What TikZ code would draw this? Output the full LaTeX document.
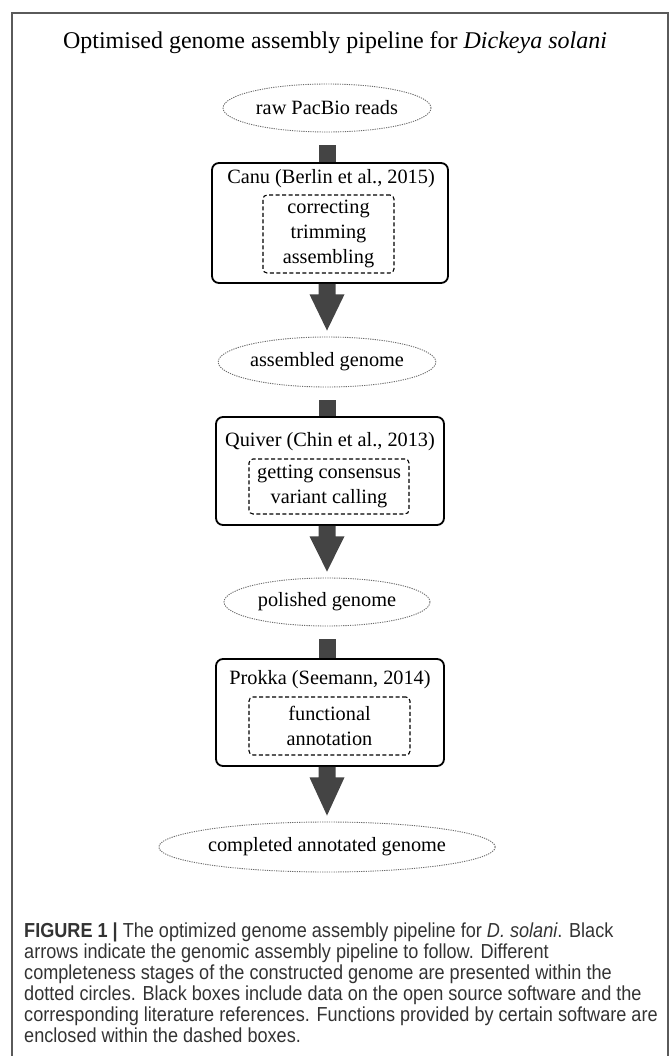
\documentclass[tikz,border=0pt]{standalone}
\usepackage{fontspec}
\setmainfont{Liberation Serif}
\newfontfamily\capfont{Liberation Sans}
\usetikzlibrary{shapes.geometric,calc}
\definecolor{arrowgrey}{HTML}{444444}
\definecolor{framegrey}{HTML}{5A5A5A}
\definecolor{dotgrey}{HTML}{6A6A6A}
\definecolor{captext}{HTML}{333333}
\newcommand{\capstretch}[1]{\scalebox{1}[1.12]{#1}}
\begin{document}
\begin{tikzpicture}[x=1pt,y=-1pt,
  stage/.style={ellipse, draw=dotgrey, line width=0.9pt, dash pattern=on 1.2pt off 1.1pt,
    inner sep=0pt, font=\fontsize{20.3}{24}\selectfont},
  toolbox/.style={draw=black, line width=1.8pt, rounded corners=7pt, inner sep=0pt},
  funcbox/.style={draw=black, line width=1.1pt, dash pattern=on 4pt off 2.5pt,
    rounded corners=4pt, inner sep=0pt, align=center, font=\fontsize{20.3}{25}\selectfont},
  toollabel/.style={font=\fontsize{20.3}{24}\selectfont, inner sep=0pt},
  captionline/.style={anchor=base west, inner sep=0pt, text=captext,
    font=\capfont\fontsize{18.1}{21}\selectfont},
]
\useasboundingbox (0,0) rectangle (670,1056);
% outer frame
\draw[framegrey, line width=1.5pt] (12,1056) -- (12,13) -- (668,13) -- (668,1056);

% title
\node[inner sep=0pt, font=\fontsize{24}{28}\selectfont] (title) at (335,43)
  {Optimised genome assembly pipeline for \textit{Dickeya solani}};

% stages
\node[stage, minimum width=208pt, minimum height=48pt] (e1) at (327,108) {raw PacBio reads};
\node[stage, minimum width=196pt, minimum height=50pt] (e2) at (327,362) {assembled genome};
\node[stage, minimum width=206pt, minimum height=48pt] (e3) at (327,602) {polished genome};
\node[stage, minimum width=254pt, minimum height=50pt] (e4) at (327,847) {completed annotated genome};

% tool boxes
\node[toolbox, minimum width=236pt, minimum height=120pt] (b1) at (330,223) {};
\node[toollabel] (l1) at (331,179) {Canu (Berlin et al., 2015)};
\node[funcbox, minimum width=131pt, minimum height=78pt] (d1) at (328.5,234) {correcting\\trimming\\assembling};

\node[toolbox, minimum width=228pt, minimum height=108pt] (b2) at (330,471) {};
\node[toollabel] (l2) at (330,442) {Quiver (Chin et al., 2013)};
\node[funcbox, minimum width=160pt, minimum height=55pt] (d2) at (329,486.5) {getting consensus\\variant calling};

\node[toolbox, minimum width=228pt, minimum height=107pt] (b3) at (330,712.5) {};
\node[toollabel] (l3) at (330,680) {Prokka (Seemann, 2014)};
\node[funcbox, minimum width=161pt, minimum height=58pt] (d3) at (329.5,726) {functional\\annotation};

% stubs from stage to tool box
\foreach \e/\b in {e1/b1,e2/b2,e3/b3}{
  \fill[arrowgrey] ($(\e.south)+(-8.5,13)$) rectangle ($(\b.north -| \e.south)+(8.5,0)$);
}
% big arrows from tool box to next stage
\foreach \b/\e in {b1/e2,b2/e3,b3/e4}{
  \fill[arrowgrey] let \p1=(\b.south -| \e.north), \p2=([yshift=6pt]\e.north) in
    (\x1-8.5pt,\y1) -- (\x1-8.5pt,\y1-10.5pt) -- (\x1-17.5pt,\y1-10.5pt) -- (\x2,\y2)
    -- (\x1+17.5pt,\y1-10.5pt) -- (\x1+8.5pt,\y1-10.5pt) -- (\x1+8.5pt,\y1) -- cycle;
}

% caption
\node[captionline] (c1) at (24,937) {\capstretch{\textbf{FIGURE 1 |} The optimized genome assembly pipeline for \textit{D. solani}. Black}};
\node[captionline] (c2) at (24,958) {\capstretch{arrows indicate the genomic assembly pipeline to follow. Different}};
\node[captionline] (c3) at (24,979) {\capstretch{completeness stages of the constructed genome are presented within the}};
\node[captionline] (c4) at (24,1000) {\capstretch{dotted circles. Black boxes include data on the open source software and the}};
\node[captionline] (c5) at (24,1021) {\capstretch{corresponding literature references. Functions provided by certain software are}};
\node[captionline] (c6) at (24,1042) {\capstretch{enclosed within the dashed boxes.}};
\end{tikzpicture}
\end{document}
